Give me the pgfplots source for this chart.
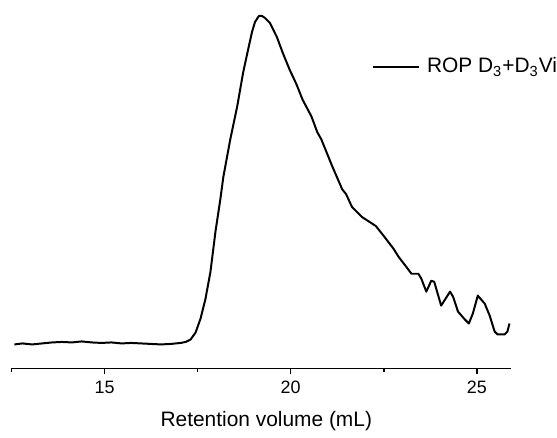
\documentclass[border=0pt]{standalone}
\usepackage{fontspec}
\setmainfont{Liberation Sans}
\usepackage{pgfplots}
\pgfplotsset{compat=1.18}
\begin{document}
\begin{tikzpicture}
\begin{axis}[
  at={(0,0)}, anchor=south west,
  scale only axis, width=250.75pt, height=185pt,
  xmin=12.5, xmax=25.91, ymin=0, ymax=370,
  axis x line=bottom, axis y line=none,
  x axis line style={-, line width=0.8pt},
  xtick={15,20,25}, minor xtick={12.5,17.5,22.5},
  tick align=outside,
  major tick length=2.8pt, minor tick length=2pt,
  tick style={line width=0.8pt, black},
  /pgf/number format/assume math mode=true,
  xticklabel style={font=\fontsize{9}{10}\selectfont},
  xlabel={Retention volume (mL)},
  xlabel style={at={(axis description cs:0.5105,0)}, anchor=base, yshift=-29pt, font=\fontsize{10.5}{12}\selectfont},
  legend style={at={(0.7208,0.819)}, anchor=west, draw=none, fill=none, inner sep=0pt,
    font=\fontsize{10.5}{12}\selectfont, nodes={inner sep=0pt}},
  legend image code/.code={\draw[#1] (0pt,0pt) -- (23.5pt,0pt); \path (26.8pt,0pt);},
  clip=false,
]
\addplot[black, line width=1pt, line join=round] coordinates {
(12.580,24) (12.793,25) (13.059,24) (13.324,25) (13.590,26) (13.856,26.5)
(14.122,26) (14.388,27) (14.654,26) (14.920,25.5) (15.186,26) (15.452,25)
(15.718,25.5) (15.984,25) (16.250,24.5) (16.516,24) (16.782,24.5) (17.048,25.5)
(17.181,26.5) (17.314,29) (17.447,36) (17.580,50) (17.713,70) (17.846,97)
(17.979,137) (18.112,170) (18.191,192) (18.378,230) (18.564,263) (18.723,297)
(18.856,320) (18.963,338) (19.043,348) (19.149,354) (19.229,354) (19.309,352)
(19.441,347) (19.628,333) (19.787,317) (19.973,300) (20.160,285) (20.319,270)
(20.559,253) (20.718,237) (20.824,230) (21.117,203) (21.383,180) (21.489,175)
(21.649,162) (21.915,152) (22.287,143) (22.500,133) (22.766,120) (22.899,112)
(23.085,103) (23.245,95) (23.431,95) (23.511,90) (23.644,77) (23.777,88)
(23.856,87) (24.043,63) (24.282,77) (24.362,72) (24.495,57) (24.681,49)
(24.787,45) (24.894,55) (25.027,73) (25.213,65) (25.346,53) (25.479,37)
(25.559,34) (25.745,34) (25.824,37) (25.878,45)
};
\addlegendentry{ROP D\textsubscript{3}+D\textsubscript{3}Vi}
\path[use as bounding box] (rel axis cs:0,0) ++(-5.75pt,-32.5pt) rectangle ++(278.5pt,217.5pt);
\end{axis}
\end{tikzpicture}
\end{document}
